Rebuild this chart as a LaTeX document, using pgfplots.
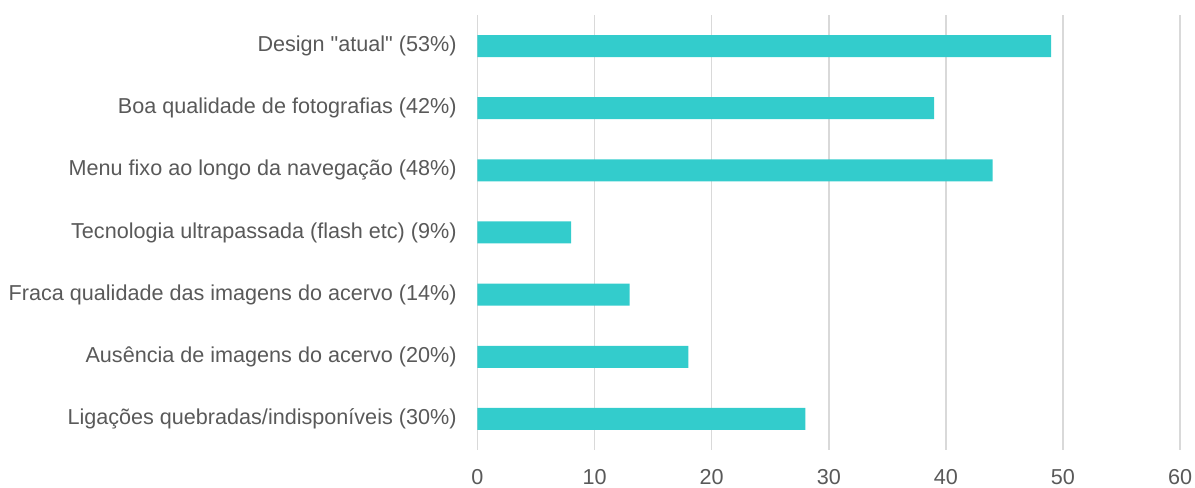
\documentclass[border=0pt]{standalone}
\usepackage{fontspec}
\setmainfont{Liberation Sans}[Ligatures=TeXOff]
\usepackage{pgfplots}
\pgfplotsset{compat=1.18}
\definecolor{barc}{HTML}{33CCCC}
\definecolor{gridc}{HTML}{D9D9D9}
\definecolor{txtc}{HTML}{595959}
\begin{document}
\begin{tikzpicture}[x=0.75pt,y=0.75pt]
\path[use as bounding box] (-477.5,-38) rectangle (717.5,450);
\begin{axis}[
  at={(0,0)}, anchor=south west,
  scale only axis,
  width=526.9pt, height=326.25pt,
  xmin=0, xmax=60, ymin=0.5, ymax=7.5,
  xbar, bar width=16.5pt,
  xtick={0,10,...,60},
  ytick={1,...,7},
  yticklabels={Ligações quebradas/indisponíveis (30\%),
               Ausência de imagens do acervo (20\%),
               Fraca qualidade das imagens do acervo (14\%),
               Tecnologia ultrapassada (flash etc) (9\%),
               Menu fixo ao longo da navegação (48\%),
               Boa qualidade de fotografias (42\%),
               Design "atual" (53\%)},
  axis line style={draw=none},
  major tick length=0pt,
  xmajorgrids,
  grid style={color=gridc, line width=1.2pt},
  /pgf/number format/assume math mode=true,
  tick label style={font=\fontsize{16.2}{19}\selectfont, text=txtc},
  yticklabel style={inner sep=0pt, anchor=east, xshift=-15.5pt},
  xticklabel style={inner sep=0pt, anchor=north, yshift=-14.5pt},
  clip=false,
]
\addplot[fill=barc, draw=none] coordinates {
  (28,1) (18,2) (13,3) (8,4) (44,5) (39,6) (49,7)
};
\end{axis}
\end{tikzpicture}
\end{document}
